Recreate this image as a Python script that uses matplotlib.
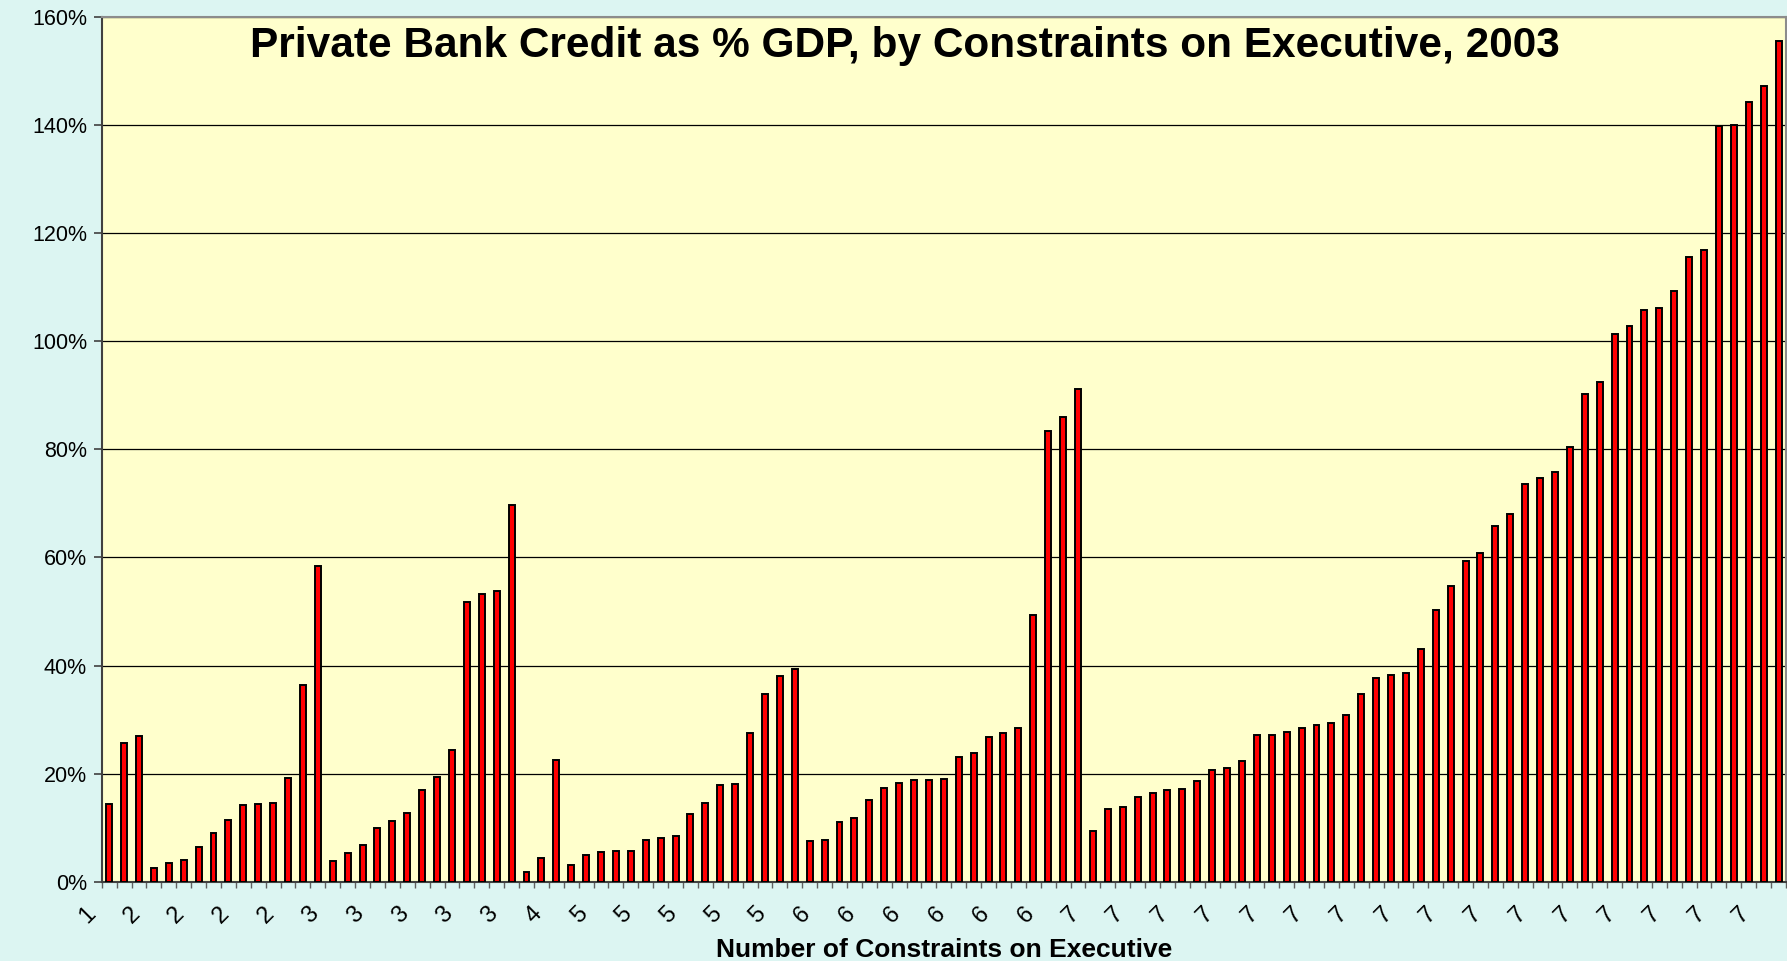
import matplotlib
matplotlib.use("Agg")
import matplotlib.pyplot as plt
import numpy as np
from matplotlib.ticker import PercentFormatter, MultipleLocator, FixedLocator
from matplotlib.transforms import ScaledTranslation

plt.rcParams["font.family"] = ["Liberation Sans", "DejaVu Sans"]

# Private bank credit (% of GDP, 2003), countries sorted within each
# constraints-on-executive score
credit_xconst1 = [14.4, 25.6, 27.0]
credit_xconst2 = [2.6, 3.5, 4.1, 6.4, 9.0, 11.5, 14.1, 14.4, 14.6, 19.1, 36.3, 58.4]
credit_xconst3 = [3.8, 5.4, 6.8, 9.9, 11.2, 12.7, 17.0, 19.3, 24.4, 51.7, 53.3,
                  53.8, 69.7]
credit_xconst4 = [1.8, 4.3, 22.6]
credit_xconst5 = [3.1, 5.0, 5.5, 5.7, 5.7, 7.8, 8.0, 8.4, 12.6, 14.6, 17.8, 18.1,
                  27.6, 34.8, 38.0, 39.3]
credit_xconst6 = [7.6, 7.7, 11.0, 11.7, 15.1, 17.3, 18.3, 18.8, 18.8, 19.0, 23.1,
                  23.9, 26.7, 27.5, 28.4, 49.4, 83.4, 85.9, 91.2]
credit_xconst7 = [9.3, 13.4, 13.8, 15.6, 16.4, 17.0, 17.2, 18.6, 20.6, 21.0, 22.3,
                  27.1, 27.2, 27.7, 28.5, 29.0, 29.3, 30.8, 34.7, 37.7, 38.2, 38.6,
                  43.1, 50.2, 54.8, 59.3, 60.9, 65.8, 68.0, 73.6, 74.6, 75.8, 80.4,
                  90.3, 92.4, 101.4, 102.8, 105.7, 106.1, 109.2, 115.6, 116.8,
                  139.9, 140.0, 144.2, 147.2, 155.6]

constraint_scores = [1, 2, 3, 4, 5, 6, 7]
credit_groups = [credit_xconst1, credit_xconst2, credit_xconst3, credit_xconst4,
                 credit_xconst5, credit_xconst6, credit_xconst7]

credit = [v for grp in credit_groups for v in grp]
xconst = [s for s, grp in zip(constraint_scores, credit_groups) for _ in grp]
n = len(credit)
x = np.arange(n)

W, H = 1787, 961
fig = plt.figure(figsize=(W / 100, H / 100), dpi=100, facecolor="#DCF5F2")
left_px, right_px, top_px, base_px = 101.7, 1786.0, 16.9, 881.7
ax = fig.add_axes([left_px / W, 1 - base_px / H,
                   (right_px - left_px) / W, (base_px - top_px) / H])
ax.set_facecolor("#FFFFCC")

ax.bar(x, credit, width=0.4, color="#FF0000", edgecolor="black",
       linewidth=1.4, zorder=3)

ax.set_xlim(-0.5, n - 0.5)
ax.set_ylim(0, 160)

# y axis: percent ticks with horizontal gridlines
ax.yaxis.set_major_locator(MultipleLocator(20))
ax.yaxis.set_major_formatter(PercentFormatter(decimals=0))
ax.grid(axis="y", color="black", linewidth=0.9, zorder=0)
ax.set_axisbelow(True)
ax.tick_params(axis="y", direction="out", length=5.5, width=1.2, color="#404040",
               labelsize=15.5, pad=5)

# x axis: tick marks on category boundaries, a label on every third country
ax.xaxis.set_minor_locator(FixedLocator(np.arange(n + 1) - 0.5))
ax.set_xticks(x[::3])
ax.set_xticklabels([str(v) for v in xconst[::3]])
ax.tick_params(axis="x", which="major", length=0, pad=0, labelsize=17)
ax.tick_params(axis="x", which="minor", direction="out", length=4, width=1.0,
               color="#606060")
shift = ScaledTranslation(-22 / 100, -33 / 100, fig.dpi_scale_trans)
for lab in ax.get_xticklabels():
    lab.set_rotation(45)
    lab.set_rotation_mode("anchor")
    lab.set_ha("center")
    lab.set_va("center")
    lab.set_transform(lab.get_transform() + shift)

for side in ("left", "bottom"):
    ax.spines[side].set_color("#404040")
    ax.spines[side].set_linewidth(1.5)
for side in ("top", "right"):
    ax.spines[side].set_color("#8C8C8C")
    ax.spines[side].set_linewidth(1.5)

ax.text(0.4767, 0.9536,
        "Private Bank Credit as % GDP, by Constraints on Executive, 2003",
        transform=ax.transAxes, ha="center", va="baseline",
        fontsize=30.5, fontweight="bold", zorder=5)

fig.text(944 / W, 1 - 950 / H, "Number of Constraints on Executive",
         ha="center", va="center", fontsize=19, fontweight="bold")

fig.savefig("out.png", dpi=100, facecolor=fig.get_facecolor())
